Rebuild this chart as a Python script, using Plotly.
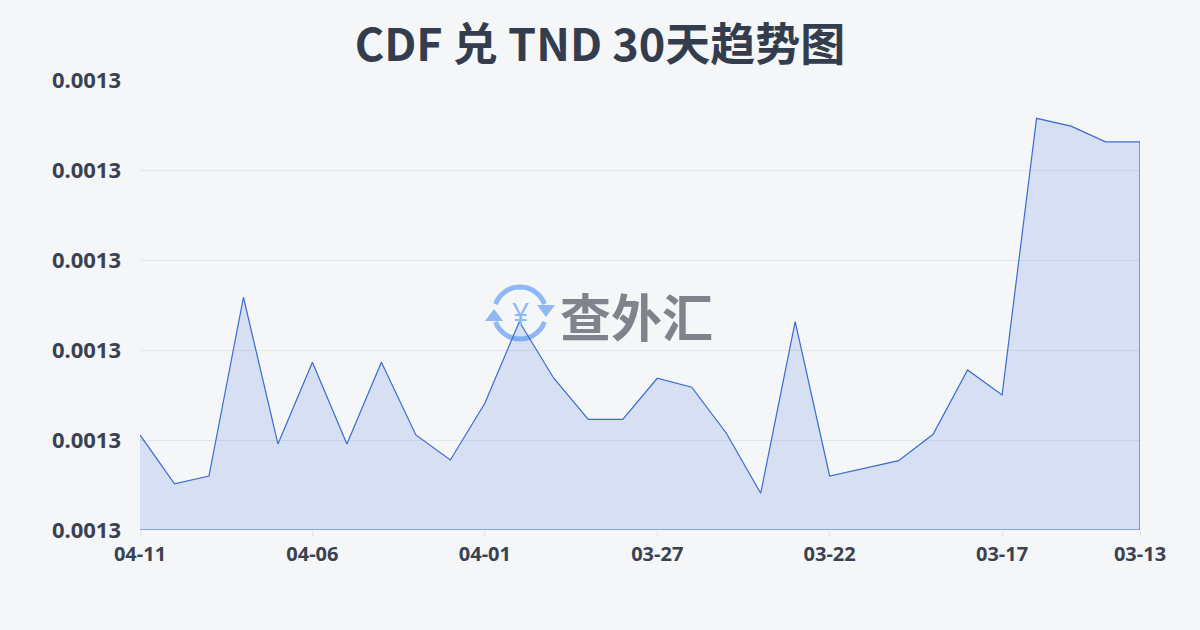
import math
import plotly.graph_objects as go

# ---- data ----
dates = ["04-11", "04-10", "04-09", "04-08", "04-07", "04-06", "04-05", "04-04", "04-03", "04-02",
         "04-01", "03-31", "03-30", "03-29", "03-28", "03-27", "03-26", "03-25", "03-24", "03-23",
         "03-22", "03-21", "03-20", "03-19", "03-18", "03-17", "03-16", "03-15", "03-14", "03-13"]
rates = [0.00128028, 0.00127756, 0.00127800, 0.00128793, 0.00127978, 0.00128432, 0.00127978, 0.00128432,
         0.00128028, 0.00127889, 0.00128204, 0.00128657, 0.00128343, 0.00128115, 0.00128115, 0.00128343,
         0.00128293, 0.00128039, 0.00127704, 0.00128657, 0.00127800, 0.00127843, 0.00127885, 0.00128032,
         0.00128389, 0.00128250, 0.00129787, 0.00129744, 0.00129656, 0.00129656]
tick_dates = ["04-11", "04-06", "04-01", "03-27", "03-22", "03-17", "03-13"]
y_min = 0.001275
y_max = 0.0013
y_step = 0.000005
title_text = "CDF 兑 TND 30天趋势图"
watermark_text = "查外汇"

# ---- geometry helpers (pixel layout) ----
W, H = 1200, 630
ML, MR, MT, MB = 140, 60, 80, 100
PW, PH = W - ML - MR, H - MT - MB

def px_to_paper(px, py):
    return (px - ML) / PW, (H - MB - py) / PH

idx = list(range(len(dates)))
poly_x = idx + [idx[-1], idx[0]]
poly_y = rates + [y_min, y_min]

fig = go.Figure()
fig.add_trace(go.Scatter(
    x=poly_x, y=poly_y, mode="lines", fill="toself",
    line=dict(color="#3a6bd2", width=1.2),
    fillcolor="rgba(70,115,220,0.17)",
    hoverinfo="skip", showlegend=False,
))

# ---- watermark logo ----
cx, cy, r = 520, 313, 26
shapes = []
def arc_path(a0, a1, n=24):
    pts = []
    for k in range(n + 1):
        a = math.radians(a0 + (a1 - a0) * k / n)
        pts.append(px_to_paper(cx + r * math.cos(a), cy - r * math.sin(a)))
    return "M " + " L ".join(f"{x:.5f},{y:.5f}" for x, y in pts)

for a0, a1 in [(20, 160), (200, 340)]:
    shapes.append(dict(type="path", xref="paper", yref="paper", path=arc_path(a0, a1),
                       line=dict(color="#8fb8f5", width=5), layer="below"))
for (ax, ay), (bx, by), (qx, qy) in [
    ((cx + r - 9, cy - 8), (cx + r + 9, cy - 8), (cx + r, cy + 4)),
    ((cx - r - 9, cy + 8), (cx - r + 9, cy + 8), (cx - r, cy - 4)),
]:
    p = [px_to_paper(ax, ay), px_to_paper(bx, by), px_to_paper(qx, qy)]
    shapes.append(dict(type="path", xref="paper", yref="paper",
                       path=f"M {p[0][0]:.5f},{p[0][1]:.5f} L {p[1][0]:.5f},{p[1][1]:.5f} L {p[2][0]:.5f},{p[2][1]:.5f} Z",
                       fillcolor="#8fb8f5", line=dict(width=0), layer="below"))

wx, wy = px_to_paper(cx, cy)
tx, ty = px_to_paper(558, 315)
annotations = [
    dict(text="¥", x=wx, y=wy, xref="paper", yref="paper", showarrow=False,
         font=dict(family="Noto Sans", size=30, color="#8fb8f5"), xanchor="center", yanchor="middle"),
    dict(text=watermark_text, x=tx, y=ty, xref="paper", yref="paper", showarrow=False,
         font=dict(family="Noto Sans CJK SC", size=51, color="#7f838b", weight="bold"),
         xanchor="left", yanchor="middle"),
]

fig.update_layout(
    width=W, height=H,
    margin=dict(l=ML, r=MR, t=MT, b=MB),
    paper_bgcolor="#f5f6f8", plot_bgcolor="rgba(0,0,0,0)",
    title=dict(text=title_text, x=0.5, xanchor="center", y=1 - 45 / H, yanchor="middle",
               font=dict(family="Noto Sans CJK SC", size=45, color="#343d4e", weight="bold")),
    xaxis=dict(
        type="linear", range=[0, len(dates) - 1],
        tickmode="array", tickvals=[dates.index(d) for d in tick_dates], ticktext=tick_dates,
        showgrid=False, zeroline=False, showline=False,
        ticks="outside", ticklen=6, tickcolor="#e1e4e8",
        tickfont=dict(family="Noto Sans", size=20, color="#3a4252", weight="bold"),
    ),
    yaxis=dict(
        range=[y_min, y_max], tick0=y_min, dtick=y_step, tickformat=".4f",
        showgrid=True, gridcolor="#e3e6ea", gridwidth=1, zeroline=False, showline=False,
        ticks="", ticklabelstandoff=18,
        tickfont=dict(family="Noto Sans", size=22, color="#3a4252", weight="bold"),
    ),
    shapes=shapes, annotations=annotations,
)

fig.write_html("out.html", config={"displayModeBar": False},
               post_script="document.body.style.margin='0';document.body.style.background='#f5f6f8';")
